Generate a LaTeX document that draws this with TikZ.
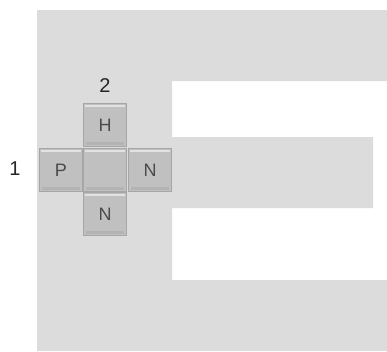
\documentclass[tikz,border=0pt]{standalone}
\usepackage{fontspec}
\setmainfont{Liberation Sans}
\begin{document}
\begin{tikzpicture}[x=1pt,y=-1pt,
  keyface/.style={fill=keymid, draw=keydark, line width=1.2pt},
  keylabel/.style={font=\fontsize{18}{20}\selectfont, text=keytext},
  numlabel/.style={font=\fontsize{20}{22}\selectfont, text=black!85}]
\definecolor{bggray}{HTML}{DCDCDC}
\definecolor{keymid}{HTML}{C0C0C0}
\definecolor{keydark}{HTML}{A6A6A6}
\definecolor{keylight}{HTML}{E2E2E2}
\definecolor{keytext}{HTML}{4A4A4A}
\useasboundingbox (0,0) rectangle (387,351);
\fill[white] (0,0) rectangle (387,351);
\fill[bggray] (37,10) -- (387,10) -- (387,81) -- (172,81) -- (172,137) -- (373,137) -- (373,208) -- (172,208) -- (172,280) -- (387,280) -- (387,351) -- (37,351) -- cycle;
% keys
\foreach \n/\cx/\cy/\t in {kh/105/125/H, kc/105/170/, kp/61/170/P, kn/150/170/N, kb/105/214/N}{
  \node[keyface, minimum width=43pt, minimum height=43pt, inner sep=0pt] (\n) at (\cx,\cy) {};
  \fill[keylight] ([xshift=-20pt,yshift=20pt]\n.center) rectangle ([xshift=20pt,yshift=18pt]\n.center);
  \fill[keydark!85] ([xshift=-19pt,yshift=-17pt]\n.center) rectangle ([xshift=19pt,yshift=-20pt]\n.center);
  \node[keylabel] at (\n.center) {\t};
}
\node[numlabel] (two) at (105,86) {2};
\node[numlabel] (one) at (15,169) {1};
\end{tikzpicture}
\end{document}
